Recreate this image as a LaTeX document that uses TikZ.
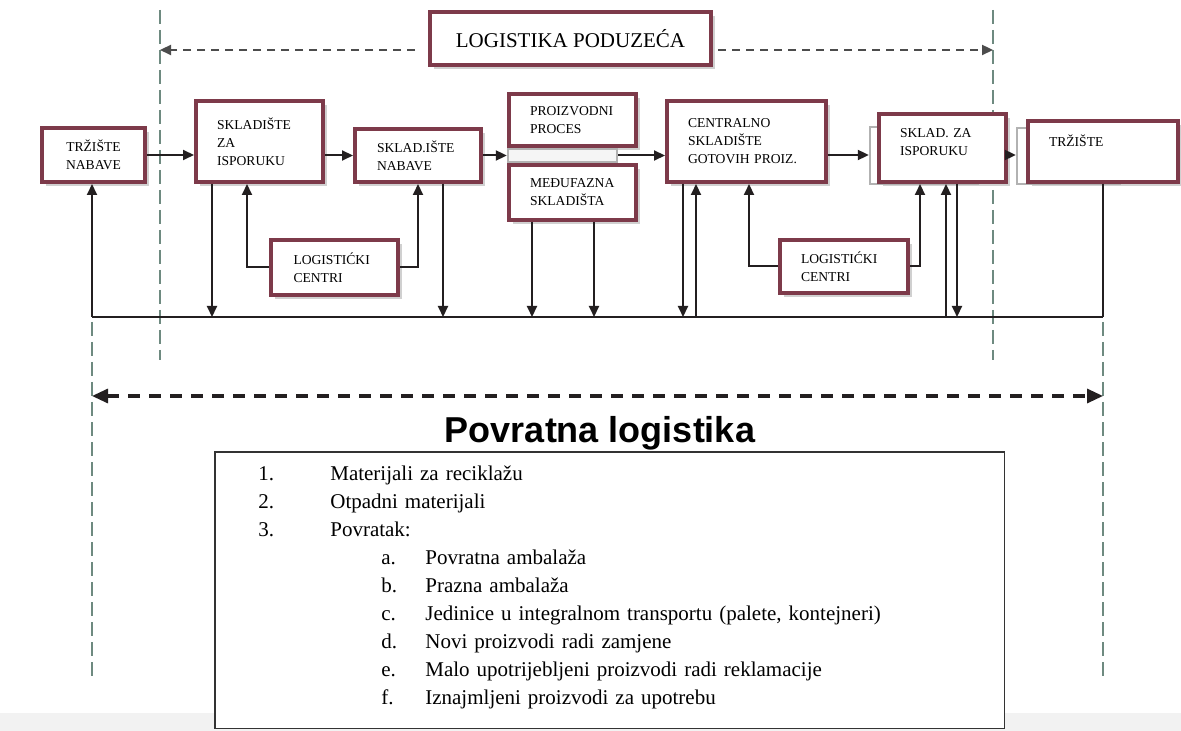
\documentclass[tikz,border=0pt]{standalone}
\usepackage{fontspec}
\setmainfont{Liberation Serif}
\newfontfamily\sansf{Liberation Sans}
\usetikzlibrary{arrows.meta,shadows}
\definecolor{maroon}{RGB}{125,58,74}
\definecolor{dgreen}{RGB}{110,138,128}
\definecolor{ink}{RGB}{35,31,32}
\begin{document}
\begin{tikzpicture}[x=0.5pt,y=-0.5pt,
  mbox/.style={draw=maroon,line width=2.2pt,fill=white,inner sep=0pt,align=left,
    font=\fontsize{6.8}{9}\selectfont,
    drop shadow={shadow xshift=2pt,shadow yshift=-2pt,fill=black!30,opacity=0.6},
    execute at begin node={\hyphenpenalty=10000 }},
  backbox/.style={draw=black!30,line width=1.2pt,fill=white,inner sep=0pt},
  conn/.style={draw=ink,line width=1pt},
  arr/.style={conn,-{Triangle[length=5.5pt,width=5pt]}},
  vdash/.style={draw=dgreen,line width=1.1pt,dash pattern=on 7pt off 3pt},
  tdash/.style={draw=black!70,line width=1.1pt,dash pattern=on 4pt off 3pt,-{Triangle[length=5.5pt,width=5pt]}},
  bdash/.style={draw=ink,line width=1.6pt,dash pattern=on 6pt off 4.5pt,{Triangle[length=8pt,width=7pt]}-{Triangle[length=8pt,width=7pt]}},
  listbox/.style={draw=black!80,line width=0.75pt,fill=white,inner sep=0pt,align=left,
    font=\fontsize{10.5}{14}\selectfont}
]
\useasboundingbox (0,0) rectangle (1181,731);
\fill[white] (0,0) rectangle (1181,731);
\fill[black!5] (0,713) rectangle (1181,731);

% dashed boundary lines
\coordinate (d1t) at (160,10);  \coordinate (d1b) at (160,360);
\coordinate (d2t) at (993,10);  \coordinate (d2b) at (993,360);
\coordinate (d3t) at (92,322);  \coordinate (d3b) at (92,676);
\coordinate (d4t) at (1103,322);\coordinate (d4b) at (1103,676);
\draw[vdash] (d1t) -- (d1b);
\draw[vdash] (d2t) -- (d2b);
\draw[vdash] (d3t) -- (d3b);
\draw[vdash] (d4t) -- (d4b);

% top title
\node[mbox,align=center,font=\fontsize{10.5}{12}\selectfont,minimum width=140.3pt,minimum height=26.3pt] (LP) at (570.5,38.5) {LOGISTIKA PODUZE\'CA};
\coordinate (tl) at (160,50);
\coordinate (tr) at (993,50);
\draw[tdash,shorten <=6.5pt] (LP.west |- tl) -- (tl);
\draw[tdash,shorten <=2.5pt] (LP.east |- tr) -- (tr);

% back (ghost) boxes
\node[backbox,minimum width=54.5pt,minimum height=6.5pt,fill=black!4] (band) at (562.5,155.5) {};
\node[backbox,minimum width=54pt,minimum height=28.5pt] (B7b) at (924,155.5) {};
\node[backbox,minimum width=51.5pt,minimum height=28pt] (B8b) at (1068.5,156) {};

% main boxes
\node[mbox,align=center,minimum width=51.3pt,minimum height=26.8pt] (B1) at (93.5,155) {TRŽIŠTE\\NABAVE};
\node[mbox,minimum width=63.3pt,minimum height=40.3pt,text width=42.5pt] (B2) at (259.5,141.5) {SKLADIŠTE\\ZA\\ISPORUKU};
\node[mbox,minimum width=62.8pt,minimum height=26.3pt,text width=41pt] (B3) at (418,155.5) {SKLAD.IŠTE\\NABAVE};
\node[mbox,minimum width=63.3pt,minimum height=25.8pt,text width=42.5pt] (B4) at (572.5,120) {PROIZVODNI\\PROCES};
\node[mbox,minimum width=63.3pt,minimum height=27.3pt,text width=42.5pt] (B5) at (572.5,192.5) {MEĐUFAZNA\\SKLADIŠTA};
\node[mbox,minimum width=79.3pt,minimum height=40.3pt,text width=58.5pt] (B6) at (746.5,141.5) {CENTRALNO\\SKLADIŠTE\\GOTOVIH PROIZ.};
\node[mbox,minimum width=63.3pt,minimum height=33.8pt,text width=42.5pt] (B7) at (942.5,148) {SKLAD. ZA\\ISPORUKU\\[-3pt]\mbox{}};
\node[mbox,minimum width=74.8pt,minimum height=30.3pt,text width=54pt] (B8) at (1103,151.5) {TRŽIŠTE\\[1.5pt]\mbox{}};
\node[mbox,minimum width=63.3pt,minimum height=27.3pt,text width=41pt] (LCL) at (334.5,267.5) {LOGISTI\'CKI\\CENTRI};
\node[mbox,minimum width=63.8pt,minimum height=26.3pt,text width=43pt] (LCR) at (844,266.5) {LOGISTI\'CKI\\CENTRI};

% main flow
\coordinate (r) at (0,155);
\draw[arr] (B1.east) -- (B1.east -| B2.west);
\draw[arr] (B2.east |- B3.west) -- (B3.west);
\draw[arr] (B3.east) -- (band.west);
\draw[arr] (band.east) -- (band.east -| B6.west);
\draw[arr] (B6.east |- r) -- (B7b.west |- r);
\draw[arr] (B7.east |- r) -- (B8b.west |- r);

% bus
\coordinate (busL) at (92,317);
\coordinate (busR) at (1103,317);
\draw[conn] (busL) -- (busR);
\coordinate (c212) at (212,317);
\coordinate (c247) at (247,317);
\coordinate (c418) at (418,317);
\coordinate (c443) at (443,317);
\coordinate (c532) at (532,317);
\coordinate (c594) at (594,317);
\coordinate (c683) at (683,317);
\coordinate (c696) at (696,317);
\coordinate (c749) at (749,317);
\coordinate (c920) at (920,317);
\coordinate (c946) at (946,317);
\coordinate (c957) at (957,317);

\draw[arr] (busL) -- (B1.south -| busL);
\draw[arr] (B2.south -| c212) -- (c212);
\draw[arr] (LCL.west) -| (B2.south -| c247);
\draw[arr] (LCL.east) -| (B3.south -| c418);
\draw[arr] (B3.south -| c443) -- (c443);
\draw[arr] (B5.south -| c532) -- (c532);
\draw[arr] (B5.south -| c594) -- (c594);
\draw[arr] (B6.south -| c683) -- (c683);
\draw[arr] (c696) -- (B6.south -| c696);
\draw[arr] (LCR.west) -| (B6.south -| c749);
\draw[arr] (LCR.east) -| (B7.south -| c920);
\draw[arr] (c946) -- (B7.south -| c946);
\draw[arr] (B7.south -| c957) -- (c957);
\draw[conn] (B8.south) -- (B8.south |- busR);

% return logistics
\coordinate (pl) at (92,396);
\coordinate (pr) at (1103,396);
\draw[bdash] (pl) -- (pr);
\node[font=\sansf\bfseries\fontsize{18}{20}\selectfont,anchor=base,inner sep=0pt] (PL) at (600,442) {Povratna logistika};

\node[listbox,minimum width=394.75pt,minimum height=138.25pt,text width=394.75pt] (lst) at (609.5,590) {%
\hspace*{21.8pt}\makebox[36pt][l]{1.}Materijali za reciklažu\\
\hspace*{21.8pt}\makebox[36pt][l]{2.}Otpadni materijali\\
\hspace*{21.8pt}\makebox[36pt][l]{3.}Povratak:\\
\hspace*{83.3pt}\makebox[22pt][l]{a.}Povratna ambalaža\\
\hspace*{83.3pt}\makebox[22pt][l]{b.}Prazna ambalaža\\
\hspace*{83.3pt}\makebox[22pt][l]{c.}Jedinice u integralnom transportu (palete, kontejneri)\\
\hspace*{83.3pt}\makebox[22pt][l]{d.}Novi proizvodi radi zamjene\\
\hspace*{83.3pt}\makebox[22pt][l]{e.}Malo upotrijebljeni proizvodi radi reklamacije\\
\hspace*{83.3pt}\makebox[22pt][l]{f.}Iznajmljeni proizvodi za upotrebu\\[-9.5pt]\mbox{}};
\end{tikzpicture}
\end{document}
